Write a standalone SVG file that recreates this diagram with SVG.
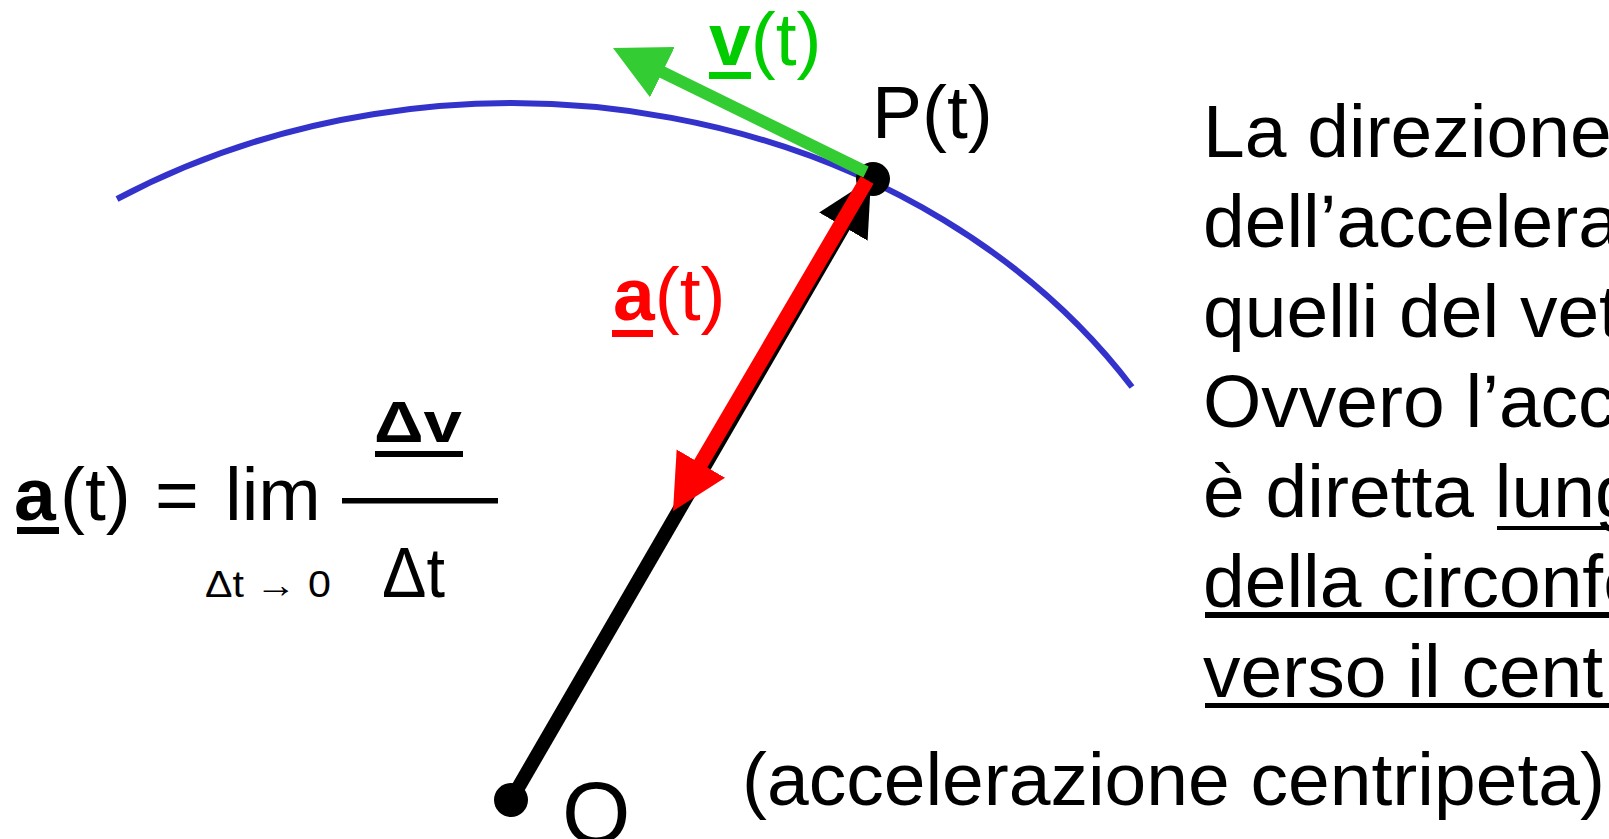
<svg xmlns="http://www.w3.org/2000/svg" width="1609" height="839" viewBox="0 0 1609 839">
  <style>
    .t { font-family: "Liberation Sans", Arial, sans-serif; font-size: 75px; fill: #000; }
    .b { font-weight: bold; }
    .s { font-family: "Liberation Sans", Arial, sans-serif; font-size: 36px; fill: #000; }
  </style>
  <defs>
    <marker id="hk" markerUnits="userSpaceOnUse" markerWidth="60" markerHeight="60" refX="5" refY="28" orient="auto">
      <path d="M0,0 L55,28 L0,56 Z" fill="#000"/>
    </marker>
    <marker id="hr" markerUnits="userSpaceOnUse" markerWidth="60" markerHeight="60" refX="5" refY="28" orient="auto">
      <path d="M0,0 L55,28 L0,56 Z" fill="#FF0000"/>
    </marker>
    <marker id="hg" markerUnits="userSpaceOnUse" markerWidth="60" markerHeight="60" refX="5" refY="28" orient="auto">
      <path d="M0,0 L55,28 L0,56 Z" fill="#33CC33"/>
    </marker>
  </defs>
  <rect width="1609" height="839" fill="#fff"/>

  <g id="trajectory">
    <path d="M117,199 A734,610 0 0 1 1132,387" fill="none" stroke="#3333CC" stroke-width="6"/>
  </g>

  <g id="connectors">
    <line id="radius" x1="511" y1="800" x2="845.9" y2="222.3" stroke="#000" stroke-width="14" marker-end="url(#hk)"/>
  </g>

  <g id="point-O">
    <circle cx="511" cy="800" r="17" fill="#000"/>
    <text class="t" x="562" y="843" style="font-size:88px">O</text>
  </g>

  <g id="point-P">
    <circle cx="873" cy="179" r="17" fill="#000"/>
    <text class="t" x="872" y="138">P(t)</text>
  </g>

  <g id="vectors">
    <line id="velocity" x1="866" y1="172" x2="657.9" y2="70" stroke="#33CC33" stroke-width="12" marker-end="url(#hg)"/>
    <line id="acceleration" x1="867" y1="180" x2="698.3" y2="467.9" stroke="#FF0000" stroke-width="15" marker-end="url(#hr)"/>
  </g>

  <g id="label-v">
    <text class="t" x="709" y="65" style="fill:#00CC00"><tspan class="b">v</tspan>(t)</text>
    <rect x="709" y="72" width="42" height="7" fill="#00CC00"/>
  </g>

  <g id="label-a">
    <text class="t" x="613" y="320" style="fill:#FF0000"><tspan class="b">a</tspan>(t)</text>
    <rect x="612" y="330" width="41" height="7" fill="#FF0000"/>
  </g>

  <g id="formula">
    <text class="t" y="520"><tspan x="14" class="b">a</tspan><tspan x="60">(t)</tspan><tspan x="155">=</tspan><tspan x="225">lim</tspan></text>
    <rect x="17" y="527" width="42" height="7" fill="#000"/>
    <text class="t b" x="374" y="442" style="font-size:58px" textLength="88" lengthAdjust="spacingAndGlyphs">Δv</text>
    <rect x="375" y="451" width="88" height="6" fill="#000"/>
    <rect x="342" y="498" width="156" height="5.5" fill="#000"/>
    <text class="t" x="382" y="597" style="font-size:70px" textLength="63" lengthAdjust="spacingAndGlyphs">Δt</text>
    <text class="s" x="205" y="597" textLength="126" lengthAdjust="spacingAndGlyphs">Δt → 0</text>
  </g>

  <g id="explanation">
    <text class="t" x="1203" y="157">La direzione</text>
    <text class="t" x="1203" y="247">dell’accelera</text>
    <text class="t" x="1203" y="337">quelli del vet</text>
    <text class="t" x="1203" y="427">Ovvero l’acc</text>
    <text class="t" x="1203" y="517">è diretta lung</text>
    <rect x="1497" y="526" width="112" height="4" fill="#000"/>
    <text class="t" x="1203" y="607">della circonfe</text>
    <rect x="1205" y="612" width="404" height="6" fill="#000"/>
    <text class="t" x="1203" y="697">verso il cent</text>
    <rect x="1205" y="703" width="404" height="5" fill="#000"/>
  </g>

  <g id="note">
    <text class="t" x="742" y="805">(accelerazione centripeta)</text>
  </g>
</svg>
